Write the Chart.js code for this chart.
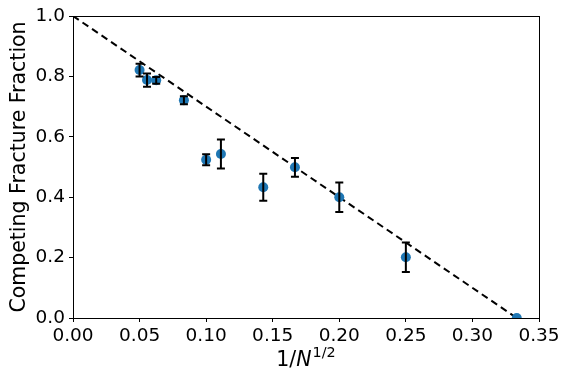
<!DOCTYPE html>
<html>
<head>
<meta charset="utf-8">
<script src="https://cdn.jsdelivr.net/npm/chart.js@4/dist/chart.umd.min.js"></script>
<style>
html,body{margin:0;padding:0;background:#fff;}
#wrap{width:571px;height:382px;}
</style>
</head>
<body>
<div id="wrap"><canvas id="c" width="571" height="382"></canvas></div>
<script>
// Data
const invSqrtN = [0.05, 0.0556, 0.0625, 0.0833, 0.1, 0.1111, 0.1429, 0.1667, 0.2, 0.25, 0.3333];
const fraction = [0.821, 0.788, 0.787, 0.721, 0.524, 0.543, 0.433, 0.499, 0.400, 0.201, 0.0];
const errors   = [0.021, 0.022, 0.011, 0.013, 0.018, 0.048, 0.045, 0.031, 0.049, 0.049, 0.0];
const fitX = [0, 0.3333];
const fitY = [1, 0];
const xTicks = [0, 0.05, 0.10, 0.15, 0.20, 0.25, 0.30, 0.35];
const yTicks = [0, 0.2, 0.4, 0.6, 0.8, 1.0];

const FONT = "'DejaVu Sans', sans-serif";
const TICK_SIZE = 18.5;
const LABEL_SIZE = 20.5;

const frameAndBars = {
  id: 'frameAndBars',
  afterDatasetsDraw(chart) {
    const {ctx, chartArea: a, scales: {x, y}} = chart;
    ctx.save();
    ctx.strokeStyle = '#000';
    ctx.lineWidth = 2;
    invSqrtN.forEach((xv, i) => {
      const e = errors[i];
      if (!e) return;
      const px = x.getPixelForValue(xv);
      const y1 = y.getPixelForValue(fraction[i] - e);
      const y2 = y.getPixelForValue(fraction[i] + e);
      ctx.beginPath();
      ctx.moveTo(px, y1); ctx.lineTo(px, y2);
      ctx.moveTo(px - 4, y1); ctx.lineTo(px + 4, y1);
      ctx.moveTo(px - 4, y2); ctx.lineTo(px + 4, y2);
      ctx.stroke();
    });
    ctx.lineWidth = 1;
    ctx.strokeRect(Math.round(a.left) + 0.5, Math.round(a.top) + 0.5,
                   Math.round(a.right - a.left), Math.round(a.bottom - a.top));
    ctx.restore();
  },
  afterDraw(chart) {
    const {ctx, chartArea: a} = chart;
    ctx.save();
    ctx.fillStyle = '#000';
    ctx.font = LABEL_SIZE + "px " + FONT;
    ctx.textAlign = 'center';
    ctx.textBaseline = 'middle';
    ctx.translate(20, (a.top + a.bottom) / 2);
    ctx.rotate(-Math.PI / 2);
    ctx.fillText('Competing Fracture Fraction', 0, 0);
    ctx.restore();
    ctx.save();
    ctx.fillStyle = '#000';
    ctx.textBaseline = 'alphabetic';
    ctx.textAlign = 'left';
    const base = 366;
    const f1 = LABEL_SIZE + "px " + FONT, f2 = "italic " + LABEL_SIZE + "px " + FONT, f3 = (LABEL_SIZE * 0.7) + "px " + FONT;
    ctx.font = f1; const w1 = ctx.measureText('1/').width;
    ctx.font = f2; const w2 = ctx.measureText('N').width;
    ctx.font = f3; const w3 = ctx.measureText('1/2').width;
    let sx = (a.left + a.right) / 2 - (w1 + w2 + w3 + 1) / 2;
    ctx.font = f1; ctx.fillText('1/', sx, base); sx += w1;
    ctx.font = f2; ctx.fillText('N', sx, base); sx += w2 + 1;
    ctx.font = f3; ctx.fillText('1/2', sx, base - 9);
    ctx.restore();
  }
};

new Chart(document.getElementById('c'), {
  data: {
    datasets: [
      {
        type: 'line',
        data: fitX.map((v, i) => ({x: v, y: fitY[i]})),
        borderColor: '#000',
        borderWidth: 2,
        borderDash: [7, 4.5],
        pointRadius: 0,
        fill: false,
        clip: 0,
        order: 2
      },
      {
        type: 'scatter',
        data: invSqrtN.map((v, i) => ({x: v, y: fraction[i]})),
        backgroundColor: '#1f77b4',
        borderColor: '#1f77b4',
        borderWidth: 0,
        pointRadius: 5,
        clip: 0,
        order: 1
      }
    ]
  },
  options: {
    responsive: false,
    animation: false,
    layout: {padding: {left: 0, right: 32, top: 16, bottom: 0}},
    plugins: {legend: {display: false}, tooltip: {enabled: false}},
    scales: {
      x: {
        type: 'linear',
        min: 0, max: 0.35,
        afterFit(s) { s.height = 64; },
        afterBuildTicks(s) { s.ticks = xTicks.map(v => ({value: v})); },
        grid: {display: true, drawOnChartArea: false, drawTicks: true, tickLength: 4, color: '#000'},
        border: {display: true, color: '#000', width: 1},
        ticks: {color: '#000', font: {family: FONT, size: TICK_SIZE}, padding: 3,
                maxRotation: 0, autoSkip: false,
                callback: v => v.toFixed(2)}
      },
      y: {
        type: 'linear',
        min: 0, max: 1.0,
        afterFit(s) { s.width = 73; },
        afterBuildTicks(s) { s.ticks = yTicks.map(v => ({value: v})); },
        grid: {display: true, drawOnChartArea: false, drawTicks: true, tickLength: 4, color: '#000'},
        border: {display: true, color: '#000', width: 1},
        ticks: {color: '#000', font: {family: FONT, size: TICK_SIZE}, padding: 4,
                autoSkip: false,
                callback: v => v.toFixed(1)}
      }
    }
  },
  plugins: [frameAndBars]
});
</script>
</body>
</html>
